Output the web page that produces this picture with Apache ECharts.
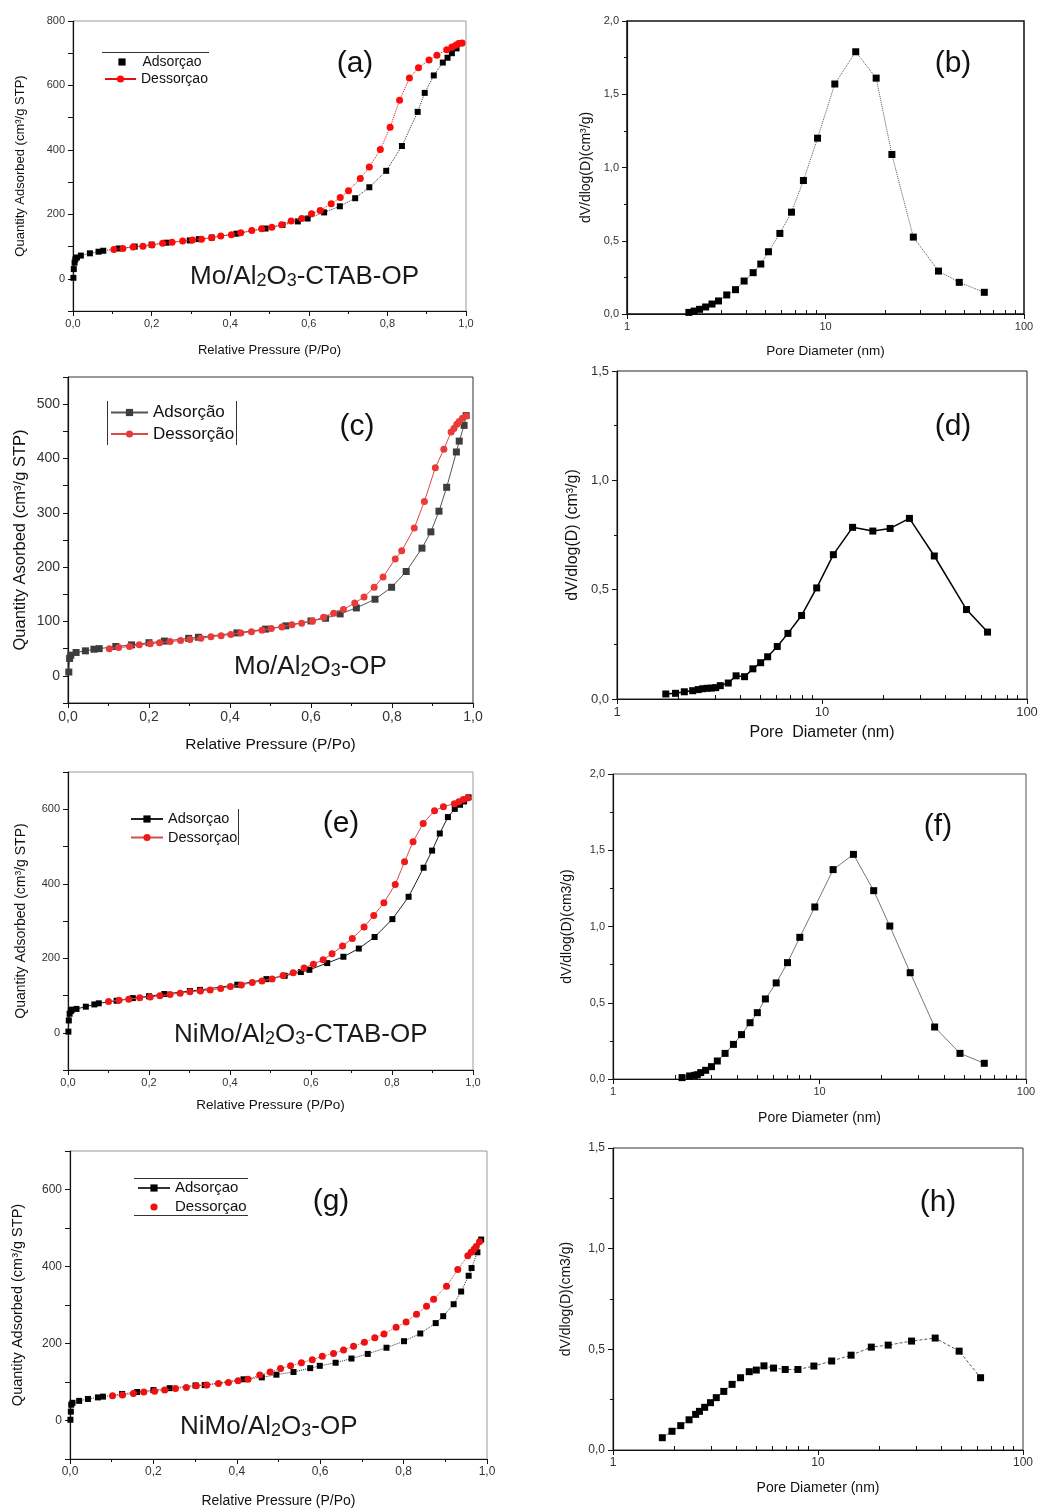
<!DOCTYPE html>
<html>
<head>
<meta charset="utf-8">
<script src="https://cdn.jsdelivr.net/npm/echarts@6/dist/echarts.min.js"></script>
<style>
  html, body { margin: 0; padding: 0; background: #fff; }
  #chart { width: 1040px; height: 1510px; }
</style>
</head>
<body>
<div id="chart"></div>
<script>
// ---------- N2 isotherms: [P/Po, quantity adsorbed (cm3/g STP)] ----------
const isoA_ads = [[0.001,3],[0.002,30],[0.004,50],[0.006,60],[0.01,66],[0.02,72],[0.043,79],[0.065,84],[0.077,87],[0.116,94],[0.157,100],[0.2,106],[0.238,112],[0.297,119],[0.32,123],[0.353,128],[0.416,140],[0.49,156],[0.533,167],[0.572,178],[0.597,187],[0.639,206],[0.679,225],[0.718,250],[0.754,284],[0.797,335],[0.837,412],[0.877,518],[0.895,577],[0.918,631],[0.941,671],[0.953,686],[0.964,700],[0.976,715],[0.988,731]];
const isoA_des = [[0.104,91],[0.127,94],[0.153,99],[0.178,101],[0.201,105],[0.228,110],[0.252,113],[0.279,117],[0.304,120],[0.327,123],[0.353,127],[0.376,133],[0.403,137],[0.427,143],[0.455,150],[0.48,155],[0.506,160],[0.531,168],[0.555,179],[0.582,187],[0.607,202],[0.629,212],[0.657,233],[0.68,252],[0.701,273],[0.731,311],[0.754,347],[0.782,401],[0.807,470],[0.831,554],[0.856,623],[0.879,655],[0.906,679],[0.926,694],[0.951,711],[0.964,719],[0.974,725],[0.981,730],[0.99,732]];

const isoC_ads = [[0.002,7],[0.004,32],[0.007,38],[0.02,43],[0.043,46],[0.064,49],[0.077,50],[0.118,54],[0.157,57],[0.2,61],[0.238,64],[0.298,69],[0.322,71],[0.417,79],[0.488,86],[0.538,92],[0.6,101],[0.636,106],[0.672,114],[0.712,125],[0.758,141],[0.799,163],[0.835,192],[0.874,235],[0.896,265],[0.916,303],[0.935,347],[0.959,412],[0.966,432],[0.978,461],[0.983,479]];
const isoC_des = [[0.102,50],[0.125,52],[0.152,54],[0.176,57],[0.203,59],[0.226,61],[0.252,63],[0.278,65],[0.301,67],[0.328,69],[0.353,72],[0.378,74],[0.402,76],[0.427,79],[0.453,81],[0.479,84],[0.502,87],[0.528,90],[0.553,94],[0.577,97],[0.604,101],[0.631,108],[0.656,115],[0.68,122],[0.708,134],[0.731,145],[0.756,163],[0.778,182],[0.808,215],[0.824,230],[0.855,272],[0.88,321],[0.907,383],[0.928,417],[0.946,449],[0.953,455],[0.96,463],[0.966,468],[0.974,474],[0.983,478]];

const isoE_ads = [[0.001,3],[0.002,33],[0.004,51],[0.007,58],[0.01,62],[0.021,64],[0.044,70],[0.065,76],[0.076,79],[0.12,86],[0.16,93],[0.2,98],[0.238,104],[0.301,112],[0.326,115],[0.418,129],[0.49,144],[0.535,153],[0.575,163],[0.596,169],[0.64,187],[0.68,204],[0.718,226],[0.757,257],[0.801,305],[0.841,365],[0.878,443],[0.899,489],[0.918,535],[0.938,579],[0.955,601],[0.968,612],[0.978,621],[0.989,632]];
const isoE_des = [[0.1,84],[0.126,87],[0.15,90],[0.177,94],[0.203,96],[0.227,99],[0.252,103],[0.277,106],[0.301,110],[0.327,112],[0.351,115],[0.377,119],[0.401,124],[0.428,128],[0.455,135],[0.479,139],[0.504,144],[0.531,154],[0.556,161],[0.583,174],[0.606,184],[0.63,196],[0.652,212],[0.678,233],[0.702,253],[0.731,284],[0.755,315],[0.78,349],[0.808,398],[0.831,459],[0.852,513],[0.877,562],[0.905,596],[0.927,607],[0.954,615],[0.965,620],[0.976,626],[0.987,630]];

const isoG_ads = [[0.001,2],[0.002,23],[0.003,41],[0.006,46],[0.022,51],[0.043,56],[0.067,60],[0.079,62],[0.125,69],[0.161,74],[0.2,79],[0.239,84],[0.301,91],[0.323,92],[0.416,107],[0.46,112],[0.495,119],[0.536,126],[0.576,136],[0.599,142],[0.637,150],[0.675,161],[0.714,173],[0.759,189],[0.801,206],[0.84,226],[0.877,253],[0.895,271],[0.92,302],[0.938,335],[0.956,376],[0.963,396],[0.977,437],[0.986,470]];
const isoG_des = [[0.102,64],[0.126,66],[0.152,70],[0.177,74],[0.203,76],[0.227,79],[0.253,83],[0.279,86],[0.303,90],[0.328,92],[0.356,96],[0.38,99],[0.403,103],[0.427,107],[0.455,118],[0.48,126],[0.505,135],[0.529,142],[0.555,150],[0.581,158],[0.605,167],[0.632,174],[0.656,183],[0.68,193],[0.706,203],[0.731,215],[0.753,225],[0.782,242],[0.806,256],[0.831,276],[0.855,297],[0.872,315],[0.903,349],[0.93,392],[0.954,428],[0.962,437],[0.969,445],[0.974,452],[0.982,464]];

// ---------- Pore size distributions: [pore diameter (nm), dV/dlog(D)] ----------
const psdB = [[2.05,0.011],[2.18,0.02],[2.32,0.032],[2.49,0.048],[2.68,0.068],[2.89,0.089],[3.18,0.13],[3.52,0.166],[3.89,0.225],[4.32,0.282],[4.72,0.341],[5.16,0.425],[5.89,0.55],[6.74,0.695],[7.74,0.911],[9.12,1.2],[11.14,1.57],[14.2,1.79],[18.0,1.61],[21.6,1.089],[27.7,0.525],[37.1,0.293],[47.2,0.216],[63.1,0.148]];
const psdD = [[1.73,0.023],[1.93,0.026],[2.13,0.033],[2.34,0.038],[2.49,0.043],[2.62,0.047],[2.75,0.049],[2.89,0.05],[3.03,0.052],[3.19,0.061],[3.49,0.073],[3.81,0.106],[4.19,0.102],[4.6,0.138],[5.02,0.166],[5.43,0.193],[6.05,0.24],[6.82,0.3],[7.95,0.382],[9.42,0.508],[11.36,0.66],[14.1,0.785],[17.7,0.768],[21.5,0.78],[26.7,0.826],[35.3,0.654],[50.7,0.409],[64.2,0.306]];
const psdF = [[2.16,0.009],[2.35,0.02],[2.48,0.024],[2.56,0.028],[2.66,0.042],[2.81,0.057],[3.0,0.081],[3.2,0.118],[3.49,0.168],[3.83,0.227],[4.19,0.291],[4.61,0.369],[5.0,0.435],[5.47,0.525],[6.17,0.63],[7.0,0.763],[8.03,0.929],[9.49,1.128],[11.64,1.373],[14.6,1.473],[18.3,1.235],[21.9,1.003],[27.5,0.697],[36.1,0.341],[47.9,0.168],[62.8,0.103]];
const psdH = [[1.74,0.061],[1.94,0.093],[2.14,0.121],[2.35,0.15],[2.53,0.177],[2.64,0.192],[2.8,0.212],[2.99,0.235],[3.19,0.26],[3.47,0.291],[3.81,0.326],[4.19,0.359],[4.62,0.389],[5.0,0.397],[5.45,0.418],[6.07,0.407],[6.92,0.4],[7.98,0.4],[9.55,0.417],[11.66,0.442],[14.5,0.471],[18.2,0.511],[22.0,0.521],[28.6,0.541],[37.3,0.556],[48.8,0.491],[62.1,0.359]];

// Minor tick positions for the log axes (2..9 and 20..90), in decades
const logMinorDecades = [2,3,4,5,6,7,8,9,20,30,40,50,60,70,80,90].map(Math.log10);

const FONT = '"Liberation Sans", Arial, Helvetica, sans-serif';
const comma1 = v => v.toFixed(1).replace('.', ',');

const grids = [], xAxes = [], yAxes = [], seriesList = [], legends = [], graphics = [];

function addGrid(box, frame, frameWidth) {
  grids.push({
    left: box[0], top: box[1], width: box[2], height: box[3],
    show: true, borderColor: frame, borderWidth: frameWidth || 1, backgroundColor: 'transparent',
    containLabel: false, outerBoundsMode: 'none'
  });
  return grids.length - 1;
}

function nameStyle(size) {
  return { fontFamily: FONT, fontSize: size, color: '#111' };
}

function addIsotherm(id, cfg) {
  const gi = addGrid(cfg.box, cfg.frame, cfg.frameWidth);
  const xi = xAxes.length, yi = yAxes.length;
  xAxes.push({
    gridIndex: gi, type: 'value', min: 0, max: 1, interval: 0.2,
    name: 'Relative Pressure (P/Po)', nameLocation: 'middle', nameGap: cfg.xNameGap,
    nameTextStyle: nameStyle(cfg.xNameSize),
    axisLine: { show: true, onZero: false, lineStyle: { color: '#111', width: 1.2 } },
    axisTick: { show: true, length: 5, lineStyle: { color: '#111' } },
    minorTick: { show: true, splitNumber: 2, length: 3, lineStyle: { color: '#111' } },
    splitLine: { show: false }, minorSplitLine: { show: false },
    axisLabel: { formatter: comma1, fontFamily: FONT, fontSize: cfg.tickSize, color: '#333', margin: 7 }
  });
  yAxes.push({
    gridIndex: gi, type: 'value', min: cfg.yMin, max: cfg.yMax, interval: cfg.yStep,
    name: cfg.yName, nameLocation: 'middle', nameGap: cfg.yNameGap,
    nameTextStyle: nameStyle(cfg.yNameSize),
    axisLine: { show: true, onZero: false, lineStyle: { color: '#111', width: 1.2 } },
    axisTick: { show: true, length: 5, lineStyle: { color: '#111' } },
    splitLine: { show: false },
    axisLabel: {
      formatter: v => (Math.round(v) % cfg.yLabelStep === 0 ? String(Math.round(v)) : ''),
      fontFamily: FONT, fontSize: cfg.tickSize, color: '#333', margin: 8
    }
  });
  seriesList.push({
    type: 'line', name: id + '-ads', xAxisIndex: xi, yAxisIndex: yi, data: cfg.ads,
    symbol: 'rect', symbolSize: cfg.sq, itemStyle: { color: cfg.adsColor },
    lineStyle: { color: cfg.adsLine, width: 1, type: cfg.lineType },
    z: 2, animation: false, emphasis: { disabled: true }
  });
  seriesList.push({
    type: 'line', name: id + '-des', xAxisIndex: xi, yAxisIndex: yi, data: cfg.des,
    symbol: 'circle', symbolSize: cfg.dot, itemStyle: { color: cfg.desColor },
    lineStyle: { color: cfg.desLine, width: 1, type: cfg.lineType },
    z: 3, animation: false, emphasis: { disabled: true }
  });
}

function addPsd(id, cfg) {
  const gi = addGrid(cfg.box, cfg.frame, cfg.frameWidth);
  const xi = xAxes.length, yi = yAxes.length;
  xAxes.push({
    gridIndex: gi, type: 'log', logBase: 10, min: 1, max: 100, position: 'bottom',
    name: cfg.xName, nameLocation: 'middle', nameGap: cfg.xNameGap,
    nameTextStyle: nameStyle(cfg.xNameSize),
    axisLine: { show: true, onZero: false, lineStyle: { color: '#111', width: 1.2 } },
    axisTick: { show: true, length: 5, lineStyle: { color: '#111' } },
    minorTick: { show: false },
    splitLine: { show: false },
    axisLabel: { formatter: v => String(Math.round(v)), fontFamily: FONT, fontSize: cfg.tickSize, color: '#333', margin: 7 }
  });
  // companion axis carrying the 2..9 minor ticks of each decade, drawn inward
  xAxes.push({
    gridIndex: gi, type: 'value', min: 0, max: 2, position: 'bottom',
    axisLine: { show: false }, axisLabel: { show: false }, splitLine: { show: false },
    axisTick: { show: true, inside: true, length: 4, customValues: logMinorDecades, lineStyle: { color: '#111' } }
  });
  yAxes.push({
    gridIndex: gi, type: 'value', min: 0, max: cfg.yMax, interval: 0.5,
    name: cfg.yName, nameLocation: 'middle', nameGap: cfg.yNameGap,
    nameTextStyle: nameStyle(cfg.yNameSize),
    axisLine: { show: true, onZero: false, lineStyle: { color: '#111', width: 1.2 } },
    axisTick: { show: true, length: 5, lineStyle: { color: '#111' } },
    minorTick: { show: true, splitNumber: 2, length: 3, lineStyle: { color: '#111' } },
    splitLine: { show: false }, minorSplitLine: { show: false },
    axisLabel: { formatter: comma1, fontFamily: FONT, fontSize: cfg.tickSize, color: '#333', margin: 8 }
  });
  seriesList.push({
    type: 'line', name: id + '-psd', xAxisIndex: xi, yAxisIndex: yi, data: cfg.data,
    symbol: 'rect', symbolSize: cfg.sq, itemStyle: { color: '#000' },
    lineStyle: { color: cfg.lineColor, width: cfg.lineWidth, type: cfg.lineType },
    z: 2, animation: false, emphasis: { disabled: true }
  });
}

// one legend entry; lineMode: 'hide' drops the stroke, 'solid' forces a solid stroke
function addLegendItem(seriesName, label, left, top, width, fontSize, lineMode) {
  const item = { name: seriesName };
  if (lineMode === 'hide') item.lineStyle = { color: 'rgba(0,0,0,0)' };
  if (lineMode === 'solid') item.lineStyle = { type: 'solid' };
  legends.push({
    data: [item], left: left, top: top, orient: 'horizontal', padding: 0, itemGap: 0,
    itemWidth: width, itemHeight: 9, selectedMode: false,
    formatter: () => label,
    textStyle: { fontFamily: FONT, fontSize: fontSize, color: '#111' }
  });
}

function panelTag(text, x, y) {
  graphics.push({
    type: 'text', x: x, y: y, z: 10,
    style: { text: text, fontFamily: FONT, fontSize: 30, fill: '#111',
             textAlign: 'center', align: 'center', textVerticalAlign: 'middle', verticalAlign: 'middle' }
  });
}

// sample name with subscripted digits, e.g. Mo/Al2O3-CTAB-OP
function sampleName(prefix, suffix, x, y) {
  const n = { fontFamily: FONT, fontSize: 26, fill: '#1a1a1a', color: '#1a1a1a', lineHeight: 30, verticalAlign: 'bottom' };
  const s = { fontFamily: FONT, fontSize: 18, fill: '#1a1a1a', color: '#1a1a1a', lineHeight: 18, verticalAlign: 'bottom' };
  graphics.push({
    type: 'text', x: x, y: y, z: 10,
    style: {
      text: '{n|' + prefix + 'Al}{s|2}{n|O}{s|3}{n|' + suffix + '}',
      rich: { n: n, s: s },
      textAlign: 'left', align: 'left', textVerticalAlign: 'middle', verticalAlign: 'middle'
    }
  });
}

function frameLine(x1, y1, x2, y2) {
  graphics.push({
    type: 'line', z: 10, shape: { x1: x1, y1: y1, x2: x2, y2: y2 },
    style: { stroke: '#333', lineWidth: 1 }
  });
}

// (a) Mo/Al2O3-CTAB-OP isotherm
addIsotherm('a', {
  box: [73, 21, 393, 290], frame: '#999',
  yMin: -100, yMax: 800, yStep: 100, yLabelStep: 200,
  yName: 'Quantity Adsorbed (cm³/g STP)', yNameSize: 13, yNameGap: 46,
  xNameSize: 13, xNameGap: 33, tickSize: 11,
  ads: isoA_ads, des: isoA_des, sq: 6, dot: 7,
  adsColor: '#000', adsLine: '#333', desColor: '#ff0a0a', desLine: '#e01010', lineType: 'dotted'
});
// (b)
addPsd('b', {
  box: [627, 21, 397, 293], frame: '#111', frameWidth: 1.5, yMax: 2,
  yName: 'dV/dlog(D)(cm³/g)', yNameSize: 14, yNameGap: 34,
  xName: 'Pore Diameter (nm)', xNameSize: 13.5, xNameGap: 30, tickSize: 11,
  data: psdB, sq: 7, lineColor: '#555', lineWidth: 1, lineType: 'dotted'
});
// (c) Mo/Al2O3-OP isotherm
addIsotherm('c', {
  box: [68, 377, 405, 326], frame: '#333',
  yMin: -50, yMax: 550, yStep: 50, yLabelStep: 100,
  yName: 'Quantity Asorbed (cm³/g STP)', yNameSize: 16.5, yNameGap: 39,
  xNameSize: 15.5, xNameGap: 34, tickSize: 14,
  ads: isoC_ads, des: isoC_des, sq: 7, dot: 7,
  adsColor: '#3d3d3d', adsLine: '#555', desColor: '#ea3b3b', desLine: '#e04848', lineType: 'solid'
});
// (d)
addPsd('d', {
  box: [617, 371, 410, 328], frame: '#222', yMax: 1.5,
  yName: 'dV/dlog(D) (cm³/g)', yNameSize: 16, yNameGap: 36,
  xName: 'Pore  Diameter (nm)', xNameSize: 16, xNameGap: 26, tickSize: 13,
  data: psdD, sq: 7, lineColor: '#000', lineWidth: 1.5, lineType: 'solid'
});
// (e) NiMo/Al2O3-CTAB-OP isotherm
addIsotherm('e', {
  box: [68, 772, 405, 298], frame: '#999',
  yMin: -100, yMax: 700, yStep: 100, yLabelStep: 200,
  yName: 'Quantity Adsorbed (cm³/g STP)', yNameSize: 14, yNameGap: 40,
  xNameSize: 13.5, xNameGap: 28, tickSize: 11,
  ads: isoE_ads, des: isoE_des, sq: 6, dot: 7,
  adsColor: '#000', adsLine: '#222', desColor: '#f01818', desLine: '#d05050', lineType: 'solid'
});
// (f)
addPsd('f', {
  box: [613, 774, 413, 305], frame: '#555', yMax: 2,
  yName: 'dV/dlog(D)(cm3/g)', yNameSize: 14, yNameGap: 39,
  xName: 'Pore Diameter (nm)', xNameSize: 14, xNameGap: 32, tickSize: 11,
  data: psdF, sq: 7, lineColor: '#777', lineWidth: 1, lineType: 'solid'
});
// (g) NiMo/Al2O3-OP isotherm
addIsotherm('g', {
  box: [70, 1151, 417, 308], frame: '#999',
  yMin: -100, yMax: 700, yStep: 100, yLabelStep: 200,
  yName: 'Quantity Adsorbed (cm³/g STP)', yNameSize: 14.5, yNameGap: 45,
  xNameSize: 14, xNameGap: 35, tickSize: 12,
  ads: isoG_ads, des: isoG_des, sq: 6, dot: 7,
  adsColor: '#000', adsLine: '#333', desColor: '#ee1111', desLine: '#d33', lineType: 'dotted'
});
// (h)
addPsd('h', {
  box: [613, 1148, 410, 302], frame: '#333', yMax: 1.5,
  yName: 'dV/dlog(D)(cm3/g)', yNameSize: 14, yNameGap: 40,
  xName: 'Pore Diameter (nm)', xNameSize: 14, xNameGap: 31, tickSize: 12,
  data: psdH, sq: 7, lineColor: '#555', lineWidth: 1, lineType: [3, 2]
});

// legends
addLegendItem('a-ads', 'Adsorçao', 105.5, 55, 31, 14, 'hide');
addLegendItem('a-des', 'Dessorçao', 104, 72, 31, 14, 'solid');
addLegendItem('c-ads', 'Adsorção', 110, 404, 37, 17);
addLegendItem('c-des', 'Dessorção', 110, 425.5, 37, 17);
addLegendItem('e-ads', 'Adsorçao', 130, 811.5, 32, 14.5);
addLegendItem('e-des', 'Dessorçao', 130, 830, 32, 14.5);
addLegendItem('g-ads', 'Adsorçao', 137, 1180.5, 32, 15, 'solid');
addLegendItem('g-des', 'Dessorçao', 137, 1199.5, 32, 15, 'hide');

// legend frames
frameLine(102, 52.5, 209, 52.5);
frameLine(107.5, 401, 107.5, 445);
frameLine(236.5, 401, 236.5, 445);
frameLine(238.5, 809, 238.5, 845);
frameLine(134, 1178.5, 248, 1178.5);
frameLine(134, 1215.5, 248, 1215.5);

// panel letters
panelTag('(a)', 355, 64);
panelTag('(b)', 953, 64);
panelTag('(c)', 357, 427);
panelTag('(d)', 953, 427);
panelTag('(e)', 341, 824);
panelTag('(f)', 938, 827);
panelTag('(g)', 331, 1202);
panelTag('(h)', 938, 1203);

// sample names
sampleName('Mo/', '-CTAB-OP', 190, 275);
sampleName('Mo/', '-OP', 234, 665);
sampleName('NiMo/', '-CTAB-OP', 174, 1033);
sampleName('NiMo/', '-OP', 180, 1425);

const chart = echarts.init(document.getElementById('chart'), null, { renderer: 'canvas' });
chart.setOption({
  backgroundColor: '#fff',
  animation: false,
  textStyle: { fontFamily: FONT },
  grid: grids,
  xAxis: xAxes,
  yAxis: yAxes,
  legend: legends,
  graphic: { elements: graphics },
  series: seriesList
});
</script>
</body>
</html>
